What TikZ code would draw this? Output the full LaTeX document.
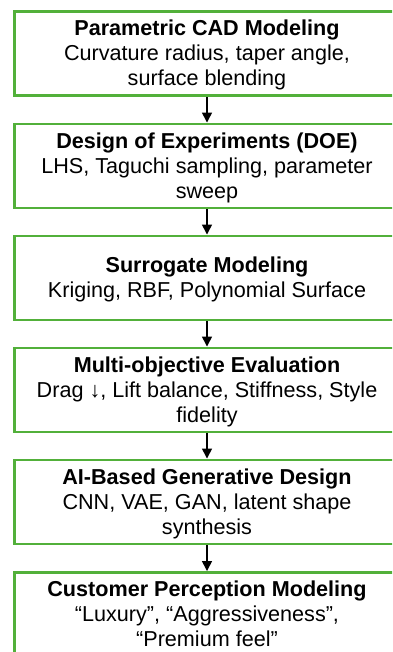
\documentclass[tikz,border=0pt]{standalone}
\usepackage{fontspec}
\setmainfont{Liberation Sans}
\usetikzlibrary{arrows.meta}
\definecolor{boxgreen}{RGB}{82,176,58}
\newcommand{\lnstrut}{\rule[-0.212em]{0pt}{1.117em}}
\tikzset{
  stagebox/.style={draw=boxgreen, line width=2.2pt, fill=white, rectangle,
    minimum width=385*0.75pt, minimum height=84*0.75pt, inner sep=0pt,
    align=center, font=\fontsize{16.2pt}{18.75pt}\selectfont},
  flowarrow/.style={line width=1.1pt, -{Triangle[length=7.5pt,width=7.5pt]}}
}
\begin{document}
\begin{tikzpicture}[x=0.75pt,y=-0.75pt]
\useasboundingbox (0,0) rectangle (392,652);
\clip (0,0) rectangle (392,652);
\node[stagebox] (s1) at (207,53.5) {\lnstrut\textbf{Parametric CAD Modeling}\\\lnstrut Curvature radius, taper angle,\\\lnstrut surface blending};
\node[stagebox] (s2) at (207,166) {\lnstrut\textbf{Design of Experiments (DOE)}\\\lnstrut LHS, Taguchi sampling, parameter\\\lnstrut sweep};
\node[stagebox] (s3) at (207,278) {\lnstrut\textbf{Surrogate Modeling}\\\lnstrut Kriging, RBF, Polynomial Surface};
\node[stagebox] (s4) at (207,390) {\lnstrut\textbf{Multi-objective Evaluation}\\\lnstrut Drag ↓, Lift balance, Stiffness, Style\\\lnstrut fidelity};
\node[stagebox] (s5) at (207,502) {\lnstrut\textbf{AI-Based Generative Design}\\\lnstrut CNN, VAE, GAN, latent shape\\\lnstrut synthesis};
\node[stagebox] (s6) at (207,614.5) {\lnstrut\textbf{Customer Perception Modeling}\\\lnstrut “Luxury”, “Aggressiveness”,\\\lnstrut “Premium feel”};
\draw[flowarrow] (s1.south) -- (s2.north);
\draw[flowarrow] (s2.south) -- (s3.north);
\draw[flowarrow] (s3.south) -- (s4.north);
\draw[flowarrow] (s4.south) -- (s5.north);
\draw[flowarrow] (s5.south) -- (s6.north);
\end{tikzpicture}
\end{document}
